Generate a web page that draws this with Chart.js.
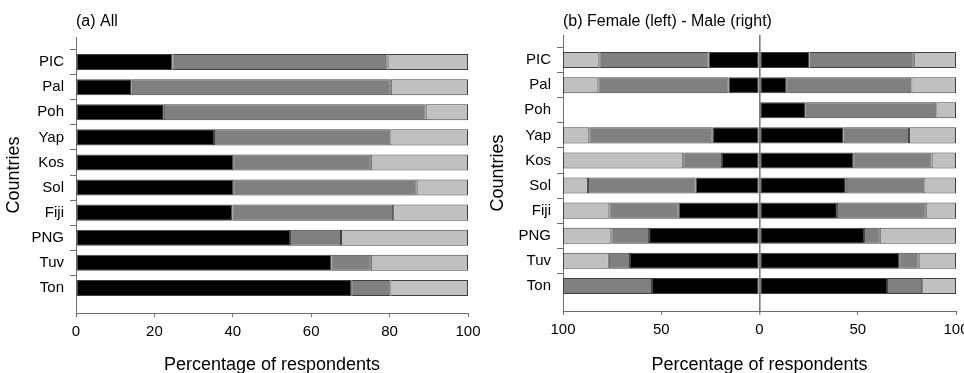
<!DOCTYPE html>
<html>
<head>
<meta charset="utf-8">
<script src="https://cdn.jsdelivr.net/npm/chart.js@4/dist/chart.umd.min.js"></script>
<style>
  html, body { margin: 0; padding: 0; background: #fff; }
  #wrap { position: relative; width: 964px; height: 373px; overflow: hidden; background: #fff; }
  canvas { position: absolute; top: 0; }
</style>
</head>
<body>
<div id="wrap">
  <canvas id="cA" width="482" height="373" style="left:0px"></canvas>
  <canvas id="cB" width="482" height="373" style="left:482px"></canvas>
</div>
<script>
// ---- Data (percent of respondents) ----
const countries = ['PIC', 'Pal', 'Poh', 'Yap', 'Kos', 'Sol', 'Fiji', 'PNG', 'Tuv', 'Ton'];

// (a) All: three response categories (black, dark grey, light grey)
const allBlack = [24.6, 14.2, 22.4, 35.2, 40.1, 40.1, 39.9, 54.6, 65.2, 70.2];
const allDark  = [54.9, 66.1, 66.8, 45.0, 35.1, 46.8, 41.0, 13.0, 10.0, 10.0];
const allLight = [20.5, 19.7, 10.8, 19.8, 24.8, 13.1, 19.1, 32.4, 24.8, 19.8];

// (b) Female (drawn to the left)
const femBlack = [25.9, 15.7, null, 23.8, 19.1, 32.5, 41.1, 56.2, 65.9, 54.7];
const femDark  = [55.6, 66.3, null, 62.8, 19.7, 54.8, 35.3, 19.2, 10.8, 45.3];
const femLight = [18.5, 18.0, null, 13.4, 61.2, 12.7, 23.6, 24.6, 23.3, null];

// (b) Male (drawn to the right)
const maleBlack = [25.5, 13.6, 23.5, 42.8, 47.7, 43.9, 39.4, 53.2, 71.1, 64.9];
const maleDark  = [53.0, 63.7, 66.5, 33.3, 39.9, 40.0, 45.2,  8.0,  9.9, 17.9];
const maleLight = [21.5, 22.7, 10.0, 23.9, 12.4, 16.1, 15.4, 38.8, 19.0, 17.2];

const ticksA = [0, 20, 40, 60, 80, 100];
const ticksB = [-100, -50, 0, 50, 100];

// ---- Styling ----
const BLACK = '#000000', DARK = '#808080', LIGHT = '#c0c0c0', EDGE = '#404040', AXIS = '#6e6e6e';
Chart.defaults.font.family = '"Liberation Sans", Arial, sans-serif';
Chart.defaults.color = '#000';

// padded category labels: one empty slot above and below the countries
const labels = [''].concat(countries, ['']);
const pad = arr => [null].concat(arr, [null]);
const neg = arr => arr.map(v => v == null ? null : -v);

function ds(data, color) {
  return {
    data: pad(data), backgroundColor: color, borderColor: EDGE, borderWidth: 1,
    borderSkipped: false, stack: 's', categoryPercentage: 1.0, barPercentage: 0.64
  };
}

function yAxis(width, titlePadTop) {
  return {
    type: 'category', stacked: true, offset: false,
    border: { display: true, color: AXIS, width: 1 },
    grid: {
      drawOnChartArea: false, drawTicks: true, tickLength: 6,
      tickColor: c => (c.index === 0 || c.index === labels.length - 1) ? 'rgba(0,0,0,0)' : AXIS
    },
    ticks: { font: { size: 15 }, padding: 6, color: '#000', autoSkip: false },
    title: { display: true, text: 'Countries', font: { size: 18 }, padding: { top: titlePadTop, bottom: 0 } },
    afterFit: s => { s.width = width; s.paddingTop = 0; s.paddingBottom = 0; }
  };
}

function xTitle() {
  return { display: true, text: 'Percentage of respondents', font: { size: 18, lineHeight: 0.9 }, padding: { top: 0, bottom: 0 } };
}

// ---- Panel (a) ----
new Chart(document.getElementById('cA'), {
  type: 'bar',
  data: {
    labels: labels,
    datasets: [ds(allBlack, BLACK), ds(allDark, DARK), ds(allLight, LIGHT)]
  },
  options: {
    indexAxis: 'y', responsive: false, animation: false,
    layout: { autoPadding: false, padding: { left: 0, right: 14, top: 0, bottom: 0 } },
    plugins: {
      legend: { display: false }, tooltip: { enabled: false },
      title: { display: true, text: '(a) All', align: 'start', fullSize: false,
               font: { size: 16, weight: 'normal' }, color: '#000', padding: { top: 12.4, bottom: 5.4 } }
    },
    scales: {
      x: {
        type: 'linear', stacked: true, min: 0, max: 100,
        afterBuildTicks: s => { s.ticks = ticksA.map(v => ({ value: v })); },
        border: { display: true, color: AXIS, width: 1 },
        grid: { drawOnChartArea: false, drawTicks: true, tickLength: 4, tickColor: AXIS },
        ticks: { font: { size: 15 }, padding: 6, color: '#000', maxRotation: 0 },
        title: xTitle(),
        afterFit: s => { s.height = 60; s.paddingLeft = 0; s.paddingRight = 0; }
      },
      y: yAxis(76, 3.7)
    }
  }
});

// ---- Panel (b) ----
new Chart(document.getElementById('cB'), {
  type: 'bar',
  data: {
    labels: labels,
    datasets: [
      ds(neg(femBlack), BLACK), ds(neg(femDark), DARK), ds(neg(femLight), LIGHT),
      ds(maleBlack, BLACK), ds(maleDark, DARK), ds(maleLight, LIGHT)
    ]
  },
  options: {
    indexAxis: 'y', responsive: false, animation: false,
    layout: { autoPadding: false, padding: { left: 0, right: 8, top: 0, bottom: 0 } },
    plugins: {
      legend: { display: false }, tooltip: { enabled: false },
      title: { display: true, text: '(b) Female (left) - Male (right)', align: 'start', fullSize: false,
               font: { size: 16, weight: 'normal' }, color: '#000', padding: { top: 12.4, bottom: 3.4 } }
    },
    scales: {
      x: {
        type: 'linear', stacked: true, min: -100, max: 100,
        afterBuildTicks: s => { s.ticks = ticksB.map(v => ({ value: v })); },
        border: { display: true, color: AXIS, width: 1 },
        grid: {
          drawOnChartArea: true, drawTicks: true, tickLength: 4, tickColor: AXIS, tickWidth: 1,
          color: c => (c.tick && c.tick.value === 0) ? '#7a7a7a' : 'rgba(0,0,0,0)',
          lineWidth: c => (c.tick && c.tick.value === 0) ? 1.6 : 1
        },
        ticks: { font: { size: 15 }, padding: 6, color: '#000', maxRotation: 0,
                 callback: v => String(Math.abs(v)) },
        title: xTitle(),
        afterFit: s => { s.height = 62; s.paddingLeft = 0; s.paddingRight = 0; }
      },
      y: yAxis(81, 5.2)
    }
  }
});
</script>
</body>
</html>
